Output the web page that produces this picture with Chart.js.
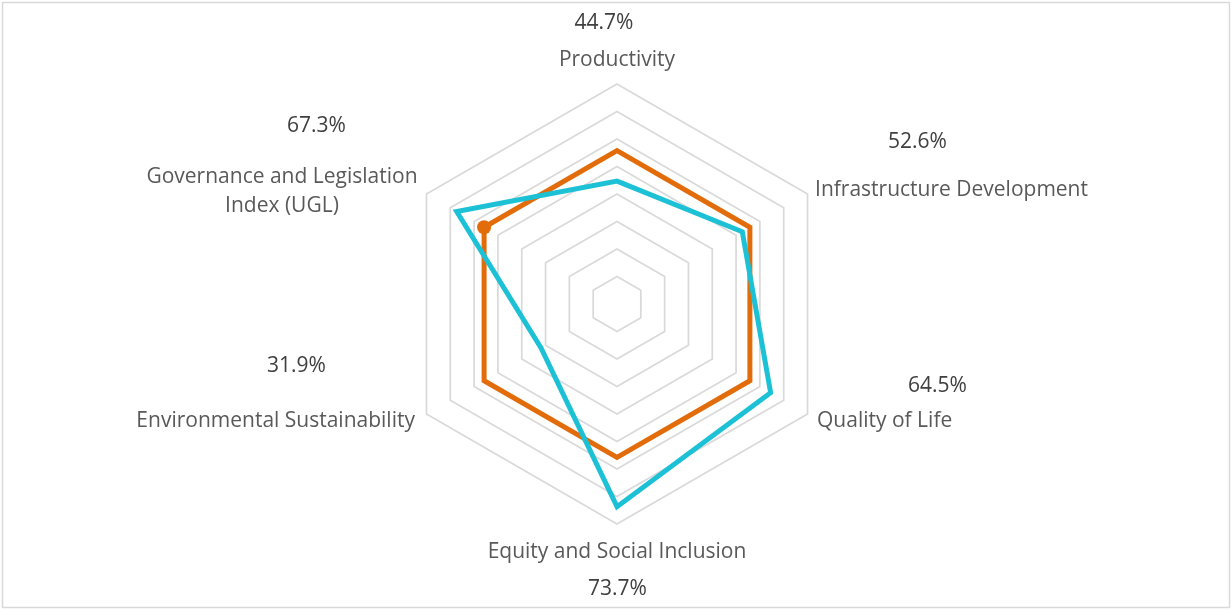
<!DOCTYPE html>
<html>
<head>
<meta charset="utf-8">
<script src="https://cdn.jsdelivr.net/npm/chart.js@4/dist/chart.umd.min.js"></script>
<style>
  html, body { margin: 0; padding: 0; background: #ffffff; }
  #wrap { position: relative; width: 1231px; height: 610px; }
</style>
</head>
<body>
<div id="wrap"><canvas id="chart" width="1231" height="610"></canvas></div>
<script>
// ---- data ----
const categories = [
  'Productivity',
  'Infrastructure Development',
  'Quality of Life',
  'Equity and Social Inclusion',
  'Environmental Sustainability',
  ['Governance and Legislation', 'Index (UGL)']
];
const indexValues = [0.447, 0.526, 0.645, 0.737, 0.319, 0.673];
const averageValues = [0.558, 0.558, 0.558, 0.558, 0.558, 0.558];
const valueLabels = ['44.7%', '52.6%', '64.5%', '73.7%', '31.9%', '67.3%'];
const scaleTicks = [0, 0.1, 0.2, 0.3, 0.4, 0.5, 0.6, 0.7, 0.8];

// ---- label placement relative to each outer vertex ----
const labelLayout = [
  { align: 'center', nx: 0,      ny: -18, vx: -13,  vy: -55 },
  { align: 'left',   nx: 7.5,    ny: 2,   vx: 110,  vy: -46 },
  { align: 'left',   nx: 9.5,    ny: 13,  vx: 130,  vy: -22 },
  { align: 'center', nx: 0,      ny: 34,  vx: 0.5,  vy: 71 },
  { align: 'right',  nx: -11.5,  ny: 13,  vx: -130, vy: -42 },
  { align: 'center', nx: -144.5, ny: -11, vx: -110, vy: -62 }
];
const LINE_H = 29;

const axisLabelPlugin = {
  id: 'axisLabelPlugin',
  afterDatasetsDraw(chart) {
    const scale = chart.scales.r;
    const ctx = chart.ctx;
    ctx.save();
    ctx.textBaseline = 'alphabetic';
    categories.forEach((name, i) => {
      const p = scale.getPointPosition(i, scale.drawingArea);
      const L = labelLayout[i];
      const lines = Array.isArray(name) ? name : [name];
      ctx.font = '21px "Open Sans"';
      ctx.fillStyle = '#595959';
      ctx.textAlign = L.align;
      lines.forEach((ln, k) => {
        ctx.fillText(ln, p.x + L.nx, p.y + L.ny + k * LINE_H);
      });
      ctx.fillStyle = '#404040';
      ctx.textAlign = 'center';
      ctx.fillText(valueLabels[i], p.x + L.vx, p.y + L.vy);
    });
    ctx.restore();
  }
};

const borderPlugin = {
  id: 'borderPlugin',
  afterDraw(chart) {
    const ctx = chart.ctx;
    ctx.save();
    ctx.strokeStyle = '#d9d9d9';
    ctx.lineWidth = 1.5;
    ctx.strokeRect(2.5, 2.5, 1227, 605);
    ctx.restore();
  }
};

new Chart(document.getElementById('chart'), {
  type: 'radar',
  data: {
    labels: categories,
    datasets: [
      {
        label: 'Index',
        data: indexValues,
        borderColor: '#1cc1d6',
        backgroundColor: 'rgba(0,0,0,0)',
        borderWidth: 5,
        pointRadius: 0,
        pointHoverRadius: 0,
        fill: false
      },
      {
        label: 'Average',
        data: averageValues,
        borderColor: '#e36c0a',
        backgroundColor: '#e36c0a',
        borderWidth: 5,
        pointRadius: [0, 0, 0, 0, 0, 7],
        pointBorderWidth: 0,
        pointBackgroundColor: '#e36c0a',
        pointHoverRadius: 0,
        fill: false
      }
    ]
  },
  options: {
    responsive: false,
    animation: false,
    devicePixelRatio: 1,
    layout: { padding: { top: 84, bottom: 85, left: 3, right: 0 } },
    plugins: {
      legend: { display: false },
      tooltip: { enabled: false }
    },
    elements: { line: { tension: 0, borderJoinStyle: 'miter' } },
    scales: {
      r: {
        min: scaleTicks[0],
        max: scaleTicks[scaleTicks.length - 1],
        beginAtZero: true,
        afterBuildTicks(scale) {
          scale.ticks = scaleTicks.map(v => ({ value: v }));
        },
        ticks: { display: false, stepSize: 0.1 },
        grid: { color: '#d9d9d9', lineWidth: 1.7, circular: false },
        angleLines: { display: false },
        pointLabels: { display: false }
      }
    }
  },
  plugins: [axisLabelPlugin, borderPlugin]
});
</script>
</body>
</html>
